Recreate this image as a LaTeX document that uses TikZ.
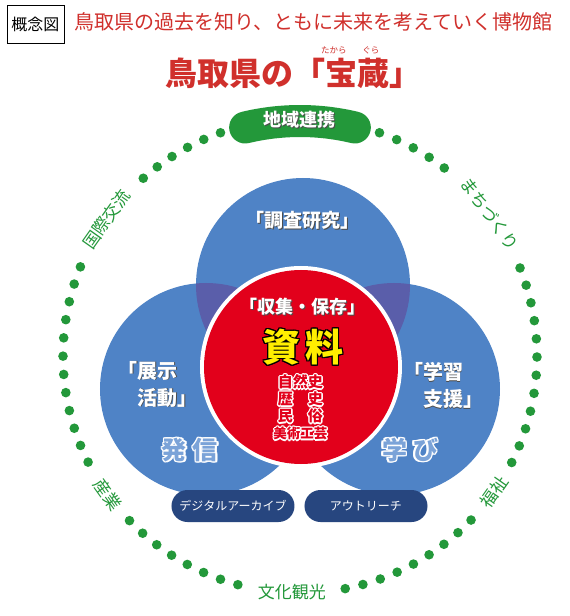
\documentclass[tikz,border=0pt]{standalone}
\usepackage{fontspec}
\setmainfont{Noto Sans CJK JP}
\usepackage{tikz}
\usetikzlibrary{calc}

\definecolor{ringgreen}{HTML}{23983A}
\definecolor{circblue}{HTML}{4F83C6}
\definecolor{lensblue}{HTML}{5A5EAA}
\definecolor{corered}{HTML}{E2001B}
\definecolor{pillnavy}{HTML}{27467F}
\definecolor{headred}{HTML}{D0302C}
\definecolor{paleblue}{HTML}{7BA3D8}
\definecolor{keyyellow}{HTML}{FFEE00}

\tikzset{
  ringdot/.style={fill=ringgreen},
  ringlabel/.style={text=ringgreen, inner sep=0, font=\fontsize{17}{17}\selectfont},
  bigwhite/.style={inner sep=0, font=\bfseries\fontsize{19}{19}\selectfont},
  sidewhite/.style={inner sep=0, align=left, font=\bfseries\fontsize{20}{27}\selectfont},
  pillbox/.style={fill=pillnavy, text=white, rounded corners=16, minimum width=123,
    minimum height=32, inner sep=0, font=\fontsize{12}{12}\selectfont}
}

% white text with a dark shadow
\newcommand{\shadetext}[4]{%
  \node[#3, text=black!70, shift={(0.9,-0.9)}] at (#2) {#4};
  \node[#3, text=white] (#1) at (#2) {#4};
}
% text with a rim in another colour
\newcommand{\rimtext}[6]{%
  \foreach \ang in {0,30,...,330}
    \node[#3, text=#5, shift={(\ang:1.3)}] at (#2) {#6};
  \node[#3, text=#4] (#1) at (#2) {#6};
}

\begin{document}
\begin{tikzpicture}[x=1pt,y=1pt]
  \useasboundingbox (-300,-260) rectangle (270,356);
  \fill[white] (-300,-260) rectangle (270,356);

  % heading
  \node[draw, line width=0.8, minimum width=57, minimum height=38, inner sep=0,
    font=\fontsize{16}{16}\selectfont] (kind) at (-264.5,332) {概念図};
  \node[anchor=west, inner sep=0, text=headred, font=\fontsize{20}{20}\selectfont]
    (motto) at (-226,334) {鳥取県の過去を知り、ともに未来を考えていく博物館};
  \node[inner sep=0, text=headred, font=\bfseries\fontsize{32}{32}\selectfont]
    (title) at (-6,283) {鳥取県の「宝蔵」};
  \node[inner sep=0, text=headred, font=\fontsize{8.5}{8.5}\selectfont] (rubya) at (34,306) {たから};
  \node[inner sep=0, text=headred, font=\fontsize{8.5}{8.5}\selectfont] (rubyb) at (71,306) {ぐら};

  % dotted ring
  \foreach \from/\to/\n in {70.4/52.5/4, 21.8/-26.7/11, -43.8/-79/8,
      -105.2/-136/7, 206.6/157.9/11, 131.4/109.6/5}
    \foreach \i in {0,...,\n}
      \fill[ringdot] ({\from+(\to-\from)*\i/\n}:237) circle (4.8);
  \draw[ringgreen, line width=32, line cap=round] (103.5:235) arc[start angle=103.5, end angle=76.5, radius=235];
  \shadetext{chiiki}{0,236}{bigwhite, font=\bfseries\fontsize{18}{18}\selectfont}{地域連携}
  \node[ringlabel, rotate=54.8] (kokusai) at (144.8:237) {国際交流};
  \node[ringlabel, rotate=-53.2] (machi) at (36.8:237) {まちづくり};
  \node[ringlabel, rotate=55] (fukushi) at (-35:237) {福祉};
  \node[ringlabel] (bunka) at (-8,-236) {文化観光};
  \node[ringlabel, rotate=-54.3] (sangyo) at (215.7:237) {産業};

  % three circles
  \fill[circblue] (3,71) circle (107);
  \fill[circblue] (-94,-33) circle (106);
  \fill[circblue] (94,-33) circle (106);
  \begin{scope}
    \clip (3,71) circle (107);
    \fill[lensblue] (-94,-33) circle (106);
    \fill[lensblue] (94,-33) circle (106);
  \end{scope}
  \fill[white] (1,-11) circle (101);
  \fill[corered] (1,-11) circle (97);

  % texts
  \shadetext{research}{3,136}{bigwhite}{「調査研究」}
  \shadetext{collect}{3,49}{bigwhite, font=\bfseries\fontsize{18}{18}\selectfont}{「収集・保存」}
  \rimtext{shiryo}{3,9}{inner sep=0, font=\bfseries\fontsize{38}{38}\selectfont}{keyyellow}{black}{資\hspace{5pt}料}
  \rimtext{fields}{0.5,-51.5}{inner sep=0, align=center, font=\bfseries\fontsize{15}{17}\selectfont}{corered}{white}%
    {自然史\\歴　史\\民　俗\\{\fontsize{13.5}{17}\selectfont 美術工芸}}
  \shadetext{display}{-142,-28}{sidewhite}{「展示\\　活動」}
  \shadetext{learning}{143,-29}{sidewhite}{「学習\\　支援」}
  \rimtext{send}{-110,-94}{inner sep=0, font=\bfseries\fontsize{25}{25}\selectfont}{paleblue}{white}{発\hspace{6pt}信}
  \rimtext{learn}{110,-94}{inner sep=0, font=\bfseries\fontsize{25}{25}\selectfont}{paleblue}{white}{学\hspace{6pt}び}

  % bottom pills
  \node[pillbox] (archive) at (-67,-150) {デジタルアーカイブ};
  \node[pillbox] (outreach) at (66,-150) {アウトリーチ};
\end{tikzpicture}
\end{document}
